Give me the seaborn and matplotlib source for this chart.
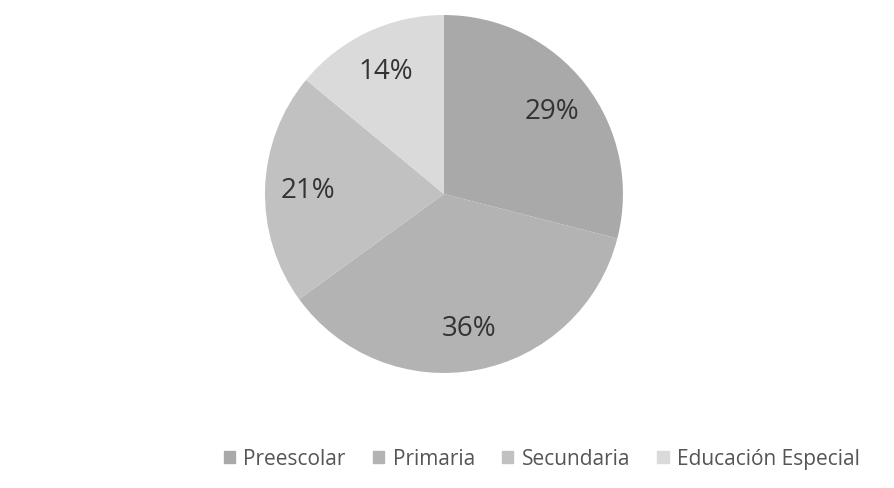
import matplotlib
matplotlib.use("Agg")
import matplotlib.pyplot as plt
import seaborn as sns

# data
categories = ["Preescolar", "Primaria", "Secundaria", "Educación Especial"]
shares = [29, 36, 21, 14]
slice_colors = ["#a9a9a9", "#b3b3b3", "#c1c1c1", "#dadada"]

sns.set_theme(style="white")
plt.rcParams["font.family"] = ["Open Sans", "DejaVu Sans"]

fig = plt.figure(figsize=(8.94, 4.89), dpi=100)
ax = fig.add_axes([0.2964, 0.2352, 0.4004, 0.7321])

wedges, texts, autotexts = ax.pie(
    shares,
    colors=slice_colors,
    startangle=90,
    counterclock=False,
    autopct="%1.0f%%",
    pctdistance=0.76,
    textprops={"fontsize": 20, "color": "#333333"},
    wedgeprops={"linewidth": 0},
)
ax.set_xlim(-1, 1)
ax.set_ylim(-1, 1)
ax.set_aspect("equal")

# legend across the bottom
handles = [plt.Rectangle((0, 0), 1, 1, color=c) for c in slice_colors]
fig.legend(
    handles, categories,
    loc="lower center", bbox_to_anchor=(0.606, 0.0),
    ncol=4, frameon=False,
    fontsize=15, labelcolor="#555555",
    handlelength=0.55, handleheight=0.55, handletextpad=0.4,
    columnspacing=1.3,
)

fig.savefig("out.png", dpi=100, facecolor="white")
